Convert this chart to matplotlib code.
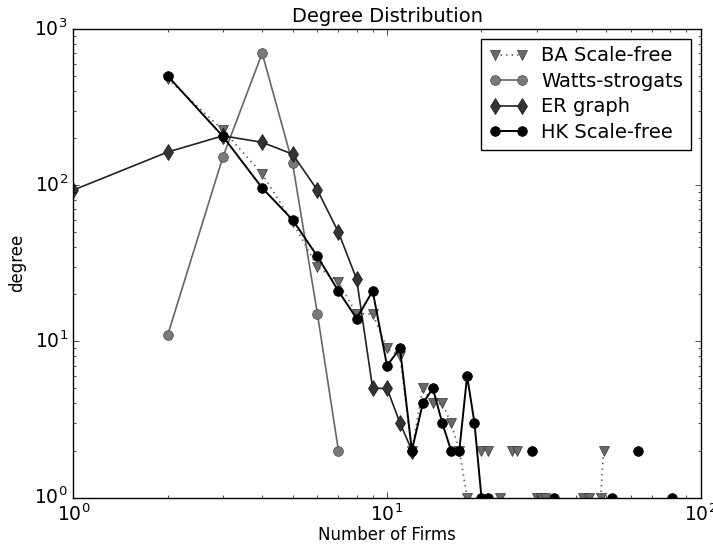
import numpy as np
import matplotlib
matplotlib.use("Agg")
import matplotlib.pyplot as plt

# ── Data (zeros are gaps on the log axes) ─────────────────────────────────────
ba_x = [2, 3, 4, 5, 6, 7, 8, 9, 10, 11, 12, 13, 14, 15, 16, 17, 18, 20, 21, 23,
        25, 26, 30, 31, 32, 42, 44, 48, 49]
ba_y = [480, 225, 118, 58, 30, 24, 15, 15, 9, 8, 2, 5, 4, 4, 3, 2, 1, 2, 2, 1,
        2, 2, 1, 1, 1, 1, 1, 1, 2]

ws_x = [2, 3, 4, 5, 6, 7]
ws_y = [11, 152, 700, 138, 15, 2]

er_x = [1, 2, 3, 4, 5, 6, 7, 8, 9, 10, 11, 12]
er_y = [93, 163, 207, 188, 158, 93, 50, 25, 5, 5, 3, 2]

hk_x = [2, 3, 4, 5, 6, 7, 8, 9, 10, 11, 12, 13, 14, 15, 16, 17, 18, 19, 20, 21,
        29, 34, 52, 63, 81]
hk_y = [500, 205, 96, 60, 35, 21, 14, 21, 7, 9, 2, 4, 5, 3, 2, 2, 6, 3, 1, 1,
        2, 1, 1, 2, 1]

labels = ["BA Scale-free", "Watts-strogats", "ER graph", "HK Scale-free"]


def full_series(xs, ys, n=90):
    """Spread points over 1..n, NaN where the count is zero (breaks the line)."""
    x = np.arange(1, n + 1)
    y = np.full(n, np.nan)
    for xi, yi in zip(xs, ys):
        y[xi - 1] = yi
    return x, y


plt.style.use("classic")
plt.rcParams["font.family"] = ["DejaVu Sans"]
plt.rcParams["mathtext.fontset"] = "dejavusans"
plt.rcParams["font.size"] = 12

fig = plt.figure(figsize=(7.13, 5.46), dpi=100, facecolor="white")
ax = fig.add_axes([0.1028, 0.0888, 0.8800, 0.8581])

x, y = full_series(ba_x, ba_y)
ax.plot(x, y, linestyle=":", color="#555555", marker="v", markersize=7,
        markerfacecolor="#6a6a6a", markeredgecolor="#333333", linewidth=1.2,
        label=labels[0])
x, y = full_series(ws_x, ws_y)
ax.plot(x, y, linestyle="-", color="#666666", marker="o", markersize=7,
        markerfacecolor="#7a7a7a", markeredgecolor="#444444", linewidth=1.2,
        label=labels[1])
x, y = full_series(er_x, er_y)
ax.plot(x, y, linestyle="-", color="#222222", marker="d", markersize=8,
        markerfacecolor="#333333", markeredgecolor="#111111", linewidth=1.2,
        label=labels[2])
x, y = full_series(hk_x, hk_y)
ax.plot(x, y, linestyle="-", color="black", marker="o", markersize=7,
        markerfacecolor="black", markeredgecolor="black", linewidth=1.4,
        label=labels[3])

ax.set_xscale("log")
ax.set_yscale("log")
ax.set_xlim(1, 100)
ax.set_ylim(1, 1000)
ax.tick_params(axis="both", which="major", labelsize=13.5)

ax.set_title("Degree Distribution", fontsize=14)
ax.set_xlabel("Number of Firms", fontsize=12, labelpad=1)
ax.set_ylabel("degree", fontsize=12, labelpad=6)

leg = ax.legend(loc="upper right", numpoints=2, fontsize=14, fancybox=False,
                labelspacing=0.33, handlelength=2.0, handletextpad=0.7)
leg.get_frame().set_edgecolor("black")

fig.savefig("out.png", dpi=100, facecolor="white")
